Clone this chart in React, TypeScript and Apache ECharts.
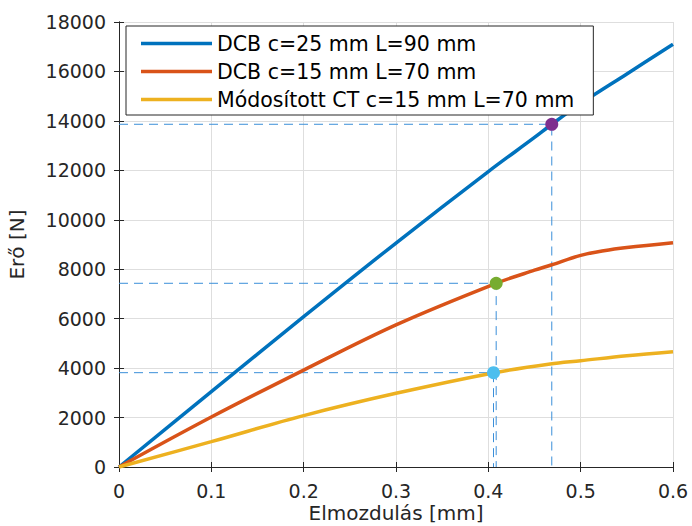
import React, { useEffect, useRef } from "react";
import * as echarts from "echarts";

const xTicks = [0, 0.1, 0.2, 0.3, 0.4, 0.5, 0.6];
const yTicks = [0, 2000, 4000, 6000, 8000, 10000, 12000, 14000, 16000, 18000];

const seriesNames = [
  "DCB c=25 mm L=90 mm",
  "DCB c=15 mm L=70 mm",
  "Módosított CT c=15 mm L=70 mm",
];

const dcb25: [number, number][] = [
  [0, 0], [0.1, 3046], [0.2, 6080], [0.3, 9060], [0.4, 11950], [0.45, 13330],
  [0.4687, 13863], [0.5, 14700], [0.55, 15900], [0.6, 17100],
];
const dcb15: [number, number][] = [
  [0, 0], [0.1, 2020], [0.2, 3920], [0.3, 5750], [0.4085, 7431], [0.45, 7960],
  [0.468, 8170], [0.5, 8560], [0.525, 8750], [0.55, 8880], [0.6, 9075],
];
const ct15: [number, number][] = [
  [0, 0], [0.1, 1024], [0.2, 2080], [0.3, 2980], [0.4066, 3815], [0.467, 4170],
  [0.5, 4300], [0.55, 4500], [0.6, 4665],
];

const markerPoints: [number, number][] = [
  [0.4687, 13863],
  [0.4085, 7431],
  [0.4056, 3815],
];
const markerColors = ["#7E2F8E", "#77AC30", "#4DBEEE"];
const lineColors = ["#0072BD", "#D95319", "#EDB120"];

const FONT = "DejaVu Sans";
const TEXT = "#262626";
const AXIS = "#262626";

export default function App() {
  const ref = useRef<HTMLDivElement>(null);
  useEffect(() => {
    if (!ref.current) return;
    const chart = echarts.init(ref.current, undefined, { renderer: "svg" });

    const guideSeries = markerPoints.map((p) => ({
      type: "line",
      data: [[0, p[1]], [p[0], p[1]], [p[0], 0]],
      showSymbol: false,
      silent: true,
      z: 1,
      lineStyle: { color: "#3b8fd9", width: 1, type: [9, 6] },
    }));

    const mainSeries = [dcb25, dcb15, ct15].map((d, i) => ({
      name: seriesNames[i],
      type: "line",
      data: d,
      showSymbol: false,
      smooth: 0.35,
      z: 3,
      lineStyle: { color: lineColors[i], width: 3.5 },
      itemStyle: { color: lineColors[i] },
    }));

    const markerSeries = markerPoints.map((p, i) => ({
      type: "scatter",
      data: [p],
      symbol: "circle",
      symbolSize: 13,
      z: 5,
      itemStyle: { color: markerColors[i], opacity: 1 },
    }));

    const baseAxisLine = { show: true, lineStyle: { color: AXIS, width: 1 } };
    const fmt = (v: number) => String(v);

    chart.setOption({
      animation: false,
      backgroundColor: "#ffffff",
      textStyle: { fontFamily: FONT },
      grid: {
        left: 119,
        right: 19,
        top: 22,
        bottom: 59,
        containLabel: false,
        outerBoundsMode: "none",
      },
      legend: {
        data: seriesNames.map((n) => ({ name: n, icon: "rect" })),
        orient: "vertical",
        left: 126,
        top: 26,
        itemWidth: 71,
        itemHeight: 3.5,
        itemGap: 7,
        padding: [7, 19, 5, 15],
        backgroundColor: "#ffffff",
        borderColor: "#262626",
        borderWidth: 1,
        textStyle: { fontFamily: FONT, fontSize: 20.5, color: "#000000", lineHeight: 20 },
      },
      xAxis: [
        {
          type: "value",
          min: 0,
          max: 0.6,
          interval: 0.1,
          name: "Elmozdulás [mm]",
          nameLocation: "middle",
          nameGap: 36,
          nameMoveOverlap: false,
          nameTextStyle: { fontFamily: FONT, fontSize: 20, color: TEXT, lineHeight: 20 },
          axisLine: baseAxisLine,
          axisTick: { show: true, inside: true, length: 5, lineStyle: { color: AXIS } },
          axisLabel: { fontFamily: FONT, fontSize: 19, color: TEXT, margin: 14, formatter: fmt },
          splitLine: { show: true, lineStyle: { color: "#dedede", width: 1 } },
        },
        {
          type: "value",
          position: "top",
          min: 0,
          max: 0.6,
          interval: 0.1,
          axisLine: baseAxisLine,
          axisTick: { show: true, inside: true, length: 5, lineStyle: { color: AXIS } },
          axisLabel: { show: false },
          splitLine: { show: false },
        },
      ],
      yAxis: [
        {
          type: "value",
          min: 0,
          max: 18000,
          interval: 2000,
          name: "Erő [N]",
          nameLocation: "middle",
          nameGap: 92,
          nameMoveOverlap: false,
          nameTextStyle: { fontFamily: FONT, fontSize: 20, color: TEXT },
          axisLine: baseAxisLine,
          axisTick: { show: true, inside: true, length: 5, lineStyle: { color: AXIS } },
          axisLabel: { fontFamily: FONT, fontSize: 19, color: TEXT, margin: 13, formatter: fmt },
          splitLine: { show: true, lineStyle: { color: "#dedede", width: 1 } },
        },
        {
          type: "value",
          position: "right",
          min: 0,
          max: 18000,
          interval: 2000,
          axisLine: baseAxisLine,
          axisTick: { show: true, inside: true, length: 5, lineStyle: { color: AXIS } },
          axisLabel: { show: false },
          splitLine: { show: false },
        },
      ],
      series: [...guideSeries, ...mainSeries, ...markerSeries],
    });
    return () => chart.dispose();
  }, []);

  return (
    <div
      ref={ref}
      style={{ position: "absolute", left: 0, top: 0, width: 692, height: 526 }}
    />
  );
}
